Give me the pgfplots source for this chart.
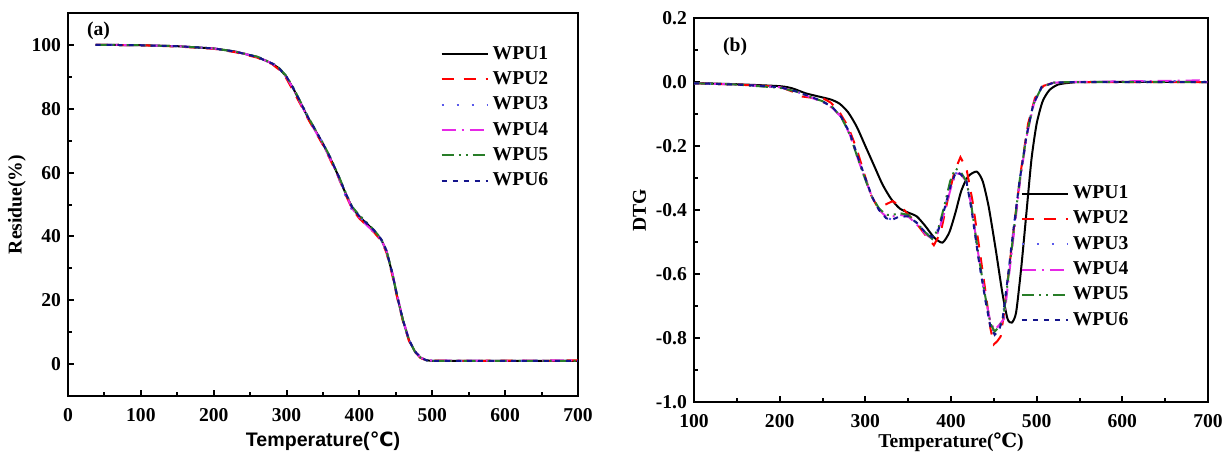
\documentclass[border=0pt]{standalone}
\usepackage{pgfplots}
\pgfplotsset{compat=1.18}
\usepackage{fontspec}
\setmainfont{Liberation Serif}
\newfontfamily\sansb{Liberation Sans}
\newfontfamily\symsans{DejaVu Sans}
\newfontfamily\symserif{DejaVu Serif}
\definecolor{cblue}{RGB}{90,90,235}
\definecolor{cmag}{RGB}{230,40,230}
\definecolor{cgreen}{RGB}{40,125,40}
\definecolor{cnavy}{RGB}{20,20,140}
\pgfplotsset{
  common/.style={
    scale only axis,
    axis line style={line width=1.4pt},
    tick pos=left,
    tick align=inside,
    major tick length=3pt,
    minor tick length=2pt,
    every tick/.style={line width=1pt,black},
    /pgf/number format/assume math mode=true,
    tick label style={font=\bfseries\fontsize{9.8}{11}\selectfont},
    label style={font=\bfseries\fontsize{9.8}{11}\selectfont},
    legend style={draw=none,fill=none,font=\bfseries\fontsize{9.8}{11}\selectfont,row sep=0.7pt,inner sep=0pt},
    legend cell align=left,
    legend image code/.code={\draw[##1] (0pt,0pt) -- (23pt,0pt);},
  },
  s1/.style={black,line width=1pt,solid},
  s2/.style={red,line width=1pt,dash pattern=on 6pt off 5pt},
  s3/.style={cblue,line width=1pt,dash pattern=on 1pt off 6.5pt},
  s4/.style={cmag,line width=1pt,dash pattern=on 7pt off 3pt on 1pt off 3pt},
  s5/.style={cgreen,line width=1pt,dash pattern=on 6pt off 2.5pt on 1pt off 2.5pt on 1pt off 2.5pt},
  s6/.style={cnavy,line width=1pt,dash pattern=on 2.5pt off 3pt},
}
\pgfplotstableread{
T y
38 100
60 100
100 99.9
150 99.6
200 98.9
230 97.9
260 96.2
280 94.2
290 92.6
300 90.0
310 86.0
320 81.5
330 77.0
340 73.0
350 69.0
360 64.5
370 59.5
380 54.0
390 49.0
400 46.2
410 44.0
420 41.8
430 39.0
437 35.5
445 28.5
452 21.0
460 13.5
468 7.5
476 4.0
484 2.0
492 1.2
500 1.0
550 1.0
600 1.0
650 1.0
700 1.0
}\tgaA
\pgfplotstableread{
T y
38 100
60 100
100 99.9
150 99.5
200 98.8
230 97.7
260 96.0
280 94.0
290 92.2
300 89.4
310 85.2
320 81.0
330 76.6
340 72.6
350 68.6
360 64.0
370 59.2
380 53.6
390 48.6
400 45.6
410 43.4
420 41.3
430 38.6
437 35.0
445 28.0
452 20.6
460 13.2
468 7.3
476 3.8
484 1.9
492 1.2
500 1.1
550 1.0
600 1.1
650 1.0
700 1.2
}\tgaB
\pgfplotstableread{
T y
38 100
60 100
100 99.9
150 99.6
200 98.9
230 97.9
260 96.3
280 94.4
290 92.8
300 90.2
310 86.3
320 81.7
330 77.2
340 73.3
350 69.2
360 64.7
370 59.2
380 53.2
390 48.2
400 46.0
410 44.1
420 41.6
430 38.8
437 35.4
445 28.6
452 21.2
460 13.7
468 7.6
476 4.1
484 2.1
492 1.3
500 1.1
550 1.0
600 1.0
650 1.1
700 1.0
}\tgaC
\pgfplotstableread{
T y
38 100
60 100
100 99.9
150 99.6
200 98.9
230 97.9
260 96.2
280 94.2
290 92.5
300 89.9
310 85.9
320 81.4
330 76.8
340 72.8
350 68.8
360 64.3
370 59.4
380 53.9
390 48.8
400 45.9
410 43.5
420 41.4
430 38.9
437 35.6
445 28.8
452 21.4
460 13.8
468 7.7
476 4.1
484 2.0
492 1.3
500 1.1
550 1.1
600 1.0
650 1.1
700 1.2
}\tgaD
\pgfplotstableread{
T y
38 100
60 100
100 99.9
150 99.6
200 98.9
230 97.9
260 96.3
280 94.3
290 92.7
300 90.2
310 86.3
320 81.8
330 77.3
340 73.2
350 69.2
360 64.8
370 59.8
380 54.3
390 49.3
400 46.6
410 44.4
420 42.0
430 39.2
437 35.7
445 28.7
452 21.2
460 13.6
468 7.6
476 4.0
484 2.0
492 1.2
500 1.0
550 1.0
600 1.0
650 1.0
700 1.0
}\tgaE
\pgfplotstableread{
T y
38 100
60 100
100 99.9
150 99.6
200 98.9
230 97.9
260 96.2
280 94.2
290 92.6
300 90.0
310 86.1
320 81.6
330 77.1
340 73.1
350 69.1
360 64.6
370 59.6
380 54.1
390 49.1
400 46.3
410 44.1
420 41.9
430 39.1
437 35.6
445 28.6
452 21.1
460 13.6
468 7.6
476 4.0
484 2.0
492 1.2
500 1.0
550 1.0
600 1.0
650 1.0
700 1.0
}\tgaF
\pgfplotstableread{
T y
100 -0.003
150 -0.007
200 -0.013
215 -0.02
230 -0.035
245 -0.045
260 -0.055
270 -0.068
280 -0.095
290 -0.14
300 -0.20
310 -0.26
320 -0.32
330 -0.365
340 -0.395
350 -0.408
360 -0.42
370 -0.45
380 -0.485
390 -0.502
398 -0.47
405 -0.41
412 -0.34
420 -0.295
430 -0.28
437 -0.31
444 -0.39
452 -0.52
460 -0.66
466 -0.74
471 -0.752
476 -0.72
482 -0.58
488 -0.41
494 -0.24
500 -0.13
507 -0.06
515 -0.025
525 -0.008
540 -0.002
560 0
700 0
}\dtgA
\pgfplotstableread{
T y
100 -0.004
150 -0.008
200 -0.015
215 -0.03
225 -0.045
240 -0.05
250 -0.05
260 -0.065
270 -0.095
280 -0.14
290 -0.21
298 -0.28
306 -0.35
314 -0.39
322 -0.385
332 -0.372
342 -0.39
352 -0.42
362 -0.45
372 -0.485
380 -0.51
388 -0.47
396 -0.37
404 -0.28
411 -0.235
418 -0.27
425 -0.37
432 -0.50
440 -0.65
446 -0.77
450 -0.82
454 -0.81
458 -0.795
462 -0.72
468 -0.58
475 -0.42
482 -0.27
490 -0.13
498 -0.05
508 -0.012
520 -0.002
540 0
700 0
}\dtgB
\pgfplotstableread{
T y
100 -0.004
150 -0.008
200 -0.016
220 -0.03
235 -0.045
250 -0.06
262 -0.08
272 -0.11
282 -0.16
292 -0.24
300 -0.30
308 -0.36
316 -0.40
324 -0.425
332 -0.43
340 -0.42
350 -0.42
360 -0.44
370 -0.47
378 -0.485
385 -0.46
392 -0.40
400 -0.32
406 -0.285
412 -0.29
418 -0.31
424 -0.40
432 -0.55
440 -0.68
446 -0.76
451 -0.785
456 -0.77
460 -0.745
465 -0.64
472 -0.48
480 -0.31
488 -0.17
496 -0.07
506 -0.015
520 -0.002
540 0
690 0.003
700 0
}\dtgC
\pgfplotstableread{
T y
100 -0.004
150 -0.008
200 -0.016
220 -0.03
235 -0.047
250 -0.062
262 -0.082
272 -0.11
282 -0.165
292 -0.245
300 -0.305
308 -0.36
316 -0.40
324 -0.42
332 -0.42
340 -0.415
350 -0.42
360 -0.445
370 -0.475
378 -0.49
385 -0.47
392 -0.41
400 -0.33
405 -0.29
410 -0.285
418 -0.31
424 -0.39
432 -0.54
440 -0.67
446 -0.75
451 -0.775
456 -0.76
462 -0.74
467 -0.62
474 -0.46
481 -0.30
489 -0.16
497 -0.065
506 -0.015
520 -0.002
540 0
690 0.005
700 -0.002
}\dtgD
\pgfplotstableread{
T y
100 -0.004
150 -0.008
200 -0.018
220 -0.03
235 -0.046
250 -0.06
262 -0.08
272 -0.11
282 -0.165
292 -0.245
300 -0.305
308 -0.36
316 -0.395
324 -0.415
332 -0.415
340 -0.41
350 -0.415
360 -0.44
370 -0.47
378 -0.49
385 -0.46
392 -0.39
399 -0.31
405 -0.27
411 -0.28
418 -0.31
424 -0.39
432 -0.54
440 -0.67
446 -0.755
451 -0.78
456 -0.765
461 -0.74
466 -0.63
473 -0.47
480 -0.31
488 -0.17
496 -0.07
506 -0.015
520 -0.002
540 0
700 0
}\dtgE
\pgfplotstableread{
T y
100 -0.004
150 -0.008
200 -0.016
220 -0.03
235 -0.045
250 -0.06
262 -0.08
272 -0.11
282 -0.16
292 -0.24
300 -0.30
308 -0.36
316 -0.40
324 -0.425
330 -0.432
340 -0.42
350 -0.42
360 -0.44
370 -0.47
378 -0.485
385 -0.465
392 -0.40
400 -0.32
406 -0.28
412 -0.29
418 -0.31
424 -0.40
432 -0.55
440 -0.68
446 -0.765
451 -0.79
456 -0.775
460 -0.745
465 -0.64
472 -0.48
480 -0.31
488 -0.17
496 -0.07
506 -0.015
520 -0.002
540 0
700 0
}\dtgF
\begin{document}
\begin{tikzpicture}
\useasboundingbox (0pt,0pt) rectangle (615.5pt,228.5pt);
\begin{axis}[common,
  at={(34pt,30.5pt)}, anchor=south west,
  width=255pt, height=191.5pt,
  xmin=0, xmax=700, ymin=-10, ymax=110,
  xtick={0,100,...,700}, minor xtick={50,150,...,650},
  ytick={0,20,...,100}, minor ytick={10,30,...,90},
  xlabel={{\sansb Temperature(}{\symsans ℃}{\sansb )}},
  ylabel={Residue(\%)},
  xticklabel style={yshift=-2.5pt},
  xlabel style={yshift=1.5pt},
  ylabel style={yshift=-4pt},
  legend style={at={(0.73,0.925)},anchor=north west},
]
\addplot[s1] table[x=T,y=y] {\tgaA};
\addplot[s2] table[x=T,y=y] {\tgaB};
\addplot[s3] table[x=T,y=y] {\tgaC};
\addplot[s4] table[x=T,y=y] {\tgaD};
\addplot[s5] table[x=T,y=y] {\tgaE};
\addplot[s6] table[x=T,y=y] {\tgaF};
\legend{WPU1,WPU2,WPU3,WPU4,WPU5,WPU6}
\node[font=\bfseries\fontsize{9.8}{11}\selectfont,anchor=center] at (axis cs:42,104.5) {(a)};
\end{axis}
\begin{axis}[common,
  at={(347pt,27.5pt)}, anchor=south west,
  width=257pt, height=192pt,
  xmin=100, xmax=700, ymin=-1.0, ymax=0.2,
  xtick={100,200,...,700}, minor xtick={150,250,...,650},
  ytick={-1.0,-0.8,...,0.2}, minor ytick={-0.9,-0.7,...,0.1},
  yticklabel style={/pgf/number format/.cd,fixed,fixed zerofill,precision=1},
  xticklabel style={yshift=-2.5pt},
  xlabel={Temperature({\symserif\bfseries ℃})},
  ylabel={DTG},
  xlabel style={yshift=4pt},
  ylabel style={yshift=-2pt},
  legend style={at={(0.635,0.575)},anchor=north west},
]
\addplot[s1,smooth,tension=0.4] table[x=T,y=y] {\dtgA};
\addplot[s2] table[x=T,y=y] {\dtgB};
\addplot[s3] table[x=T,y=y] {\dtgC};
\addplot[s4] table[x=T,y=y] {\dtgD};
\addplot[s5] table[x=T,y=y] {\dtgE};
\addplot[s6] table[x=T,y=y] {\dtgF};
\legend{WPU1,WPU2,WPU3,WPU4,WPU5,WPU6}
\node[font=\bfseries\fontsize{9.8}{11}\selectfont,anchor=center] at (axis cs:148,0.11) {(b)};
\end{axis}
\end{tikzpicture}
\end{document}
